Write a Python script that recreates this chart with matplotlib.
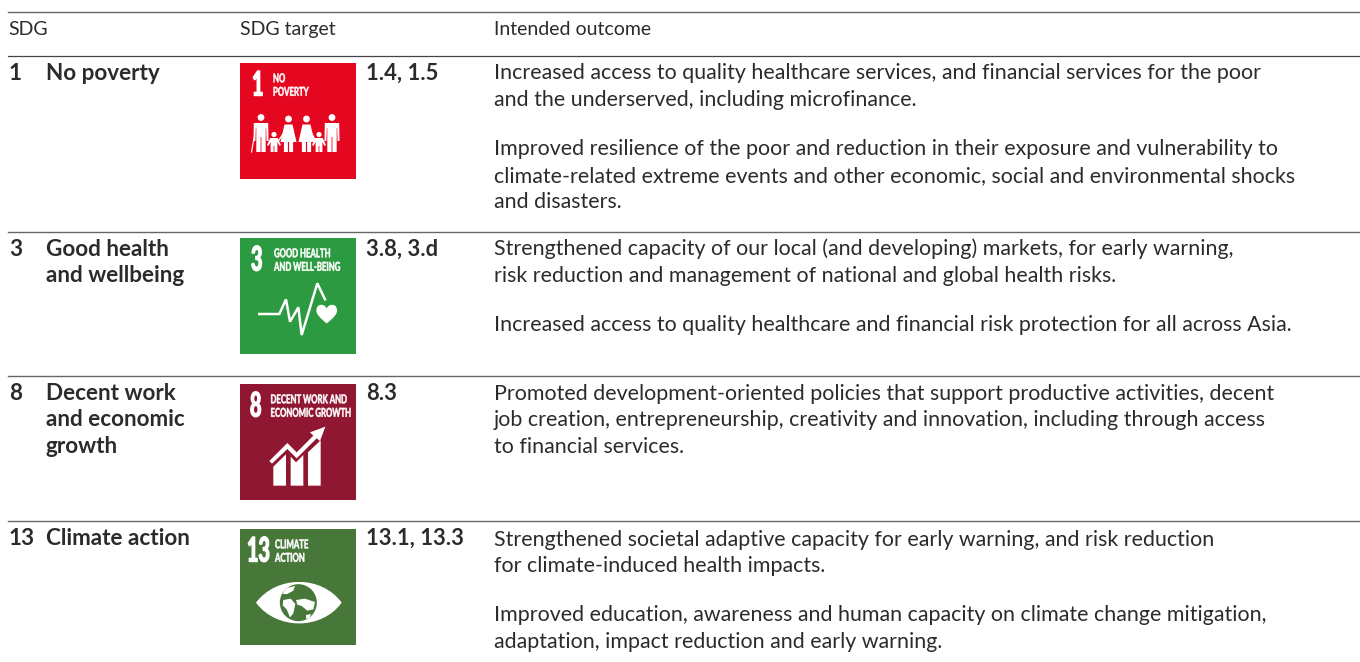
import matplotlib
matplotlib.use('Agg')
import matplotlib.pyplot as plt
from matplotlib.patches import Rectangle, Circle, Polygon, PathPatch
from matplotlib.path import Path
from matplotlib.patheffects import AbstractPathEffect
from matplotlib.transforms import Affine2D

headers = ['SDG', 'SDG target', 'Intended outcome']
sdg_numbers = ['1', '3', '8', '13']
sdg_names = [['No poverty'], ['Good health', 'and wellbeing'], ['Decent work', 'and economic', 'growth'], ['Climate action']]
targets = ['1.4, 1.5', '3.8, 3.d', '8.3', '13.1, 13.3']
outcomes = [
    [(79, 'Increased access to quality healthcare services, and financial services for the poor'),
     (106, 'and the underserved, including microfinance.'),
     (155, 'Improved resilience of the poor and reduction in their exposure and vulnerability to'),
     (182, 'climate-related extreme events and other economic, social and environmental shocks'),
     (208, 'and disasters.')],
    [(255, 'Strengthened capacity of our local (and developing) markets, for early warning,'),
     (282, 'risk reduction and management of national and global health risks.'),
     (331, 'Increased access to quality healthcare and financial risk protection for all across Asia.')],
    [(400, 'Promoted development-oriented policies that support productive activities, decent'),
     (426, 'job creation, entrepreneurship, creativity and innovation, including through access'),
     (453, 'to financial services.')],
    [(546, 'Strengthened societal adaptive capacity for early warning, and risk reduction'),
     (572, 'for climate-induced health impacts.'),
     (621, 'Improved education, awareness and human capacity on climate change mitigation,'),
     (648, 'adaptation, impact reduction and early warning.')],
]
row_tops = [56, 232, 376, 521]
icon_tops = [63, 238, 384, 529]
icon_colors = ['#E5071F', '#2B9A40', '#8F1732', '#48773A']
icon_titles = [['NO', 'POVERTY'], ['GOOD HEALTH', 'AND WELL-BEING'], ['DECENT WORK AND', 'ECONOMIC GROWTH'], ['CLIMATE', 'ACTION']]
icon_title_x = [33, 34, 30.5, 35]
icon_num_x = [12, 11, 10, 7]

TXT = '#2b2b2b'
plt.rcParams['font.family'] = ['Lato', 'DejaVu Sans']

fig = plt.figure(figsize=(13.6, 6.62), dpi=100)
ax = fig.add_axes([0, 0, 1, 1])
ax.set_xlim(0, 1360)
ax.set_ylim(662, 0)
ax.axis('off')


class Tall(AbstractPathEffect):
    # the icon lettering is a condensed face, none is installed:
    # small text stretched upward from its baseline, with a thin outline for weight
    def __init__(self, sy, lw):
        super().__init__()
        self.sy = sy
        self.lw = lw

    def draw_path(self, renderer, gc, tpath, affine, rgbFace=None):
        gc0 = renderer.new_gc()
        gc0.copy_properties(gc)
        gc0.set_linewidth(self.lw)
        gc0.set_foreground('white')
        renderer.draw_path(gc0, tpath, Affine2D().scale(1, self.sy) + affine, rgbFace)
        gc0.restore()


def tall_text(x, y, s, size, sy, lw):
    t = ax.text(x, y, s, fontsize=size, fontweight='bold', color='white', va='baseline')
    t.set_path_effects([Tall(sy, lw)])
    return t


# table rules
ax.plot([8, 1360], [12, 12], color='#666666', lw=1.0)
ax.plot([8, 1360], [56, 56], color='#444444', lw=0.9)
for y in row_tops[1:]:
    ax.plot([8, 1360], [y, y], color='#666666', lw=1.0)

# header
for x, h in zip([8, 240, 494], headers):
    ax.text(x, 35, h, fontsize=14, color=TXT, va='baseline')

# table rows
for i in range(4):
    top = row_tops[i]
    base = top + 24
    ax.text(9, base, sdg_numbers[i], fontsize=16.2, fontweight='bold', color=TXT, va='baseline')
    for j, line in enumerate(sdg_names[i]):
        ax.text(46, base + j * 26.5, line, fontsize=16.2, fontweight='bold', color=TXT, va='baseline')
    ax.text(366, base, targets[i], fontsize=15.8, fontweight='bold', color=TXT, va='baseline')
    for y, line in outcomes[i]:
        ax.text(494, y, line, fontsize=15.4, color=TXT, va='baseline')


def white_poly(pts, ox, oy, **kw):
    ax.add_patch(Polygon([(ox + a, oy + b) for a, b in pts], closed=True, fc='white', ec='none', **kw))


def man(cx, ox, oy):
    ax.add_patch(Circle((ox + cx, oy + 54.5), 3.4, fc='white', ec='none'))
    white_poly([(cx-7.2, 60), (cx+7.2, 60), (cx+7.5, 78), (cx+5.6, 78), (cx+5.2, 65), (cx+4.7, 65), (cx+4.7, 89),
                (cx+0.4, 89), (cx+0.4, 74), (cx-0.4, 74), (cx-0.4, 89), (cx-4.7, 89), (cx-4.7, 65), (cx-5.2, 65),
                (cx-5.6, 78), (cx-7.5, 78)], ox, oy)


def woman(cx, ox, oy):
    ax.add_patch(Circle((ox + cx, oy + 56), 3.4, fc='white', ec='none'))
    white_poly([(cx-4, 61.5), (cx+4, 61.5), (cx+8, 79), (cx+4.6, 79), (cx+4.6, 89), (cx+0.6, 89), (cx+0.6, 79),
                (cx-0.6, 79), (cx-0.6, 89), (cx-4.6, 89), (cx-4.6, 79), (cx-8, 79)], ox, oy)


def child(cx, ox, oy):
    ax.add_patch(Circle((ox + cx, oy + 71.5), 2.6, fc='white', ec='none'))
    white_poly([(cx-3.7, 75), (cx+3.7, 75), (cx+7, 82), (cx+5.5, 83), (cx+3.4, 79), (cx+3.4, 89), (cx+0.4, 89),
                (cx+0.4, 83), (cx-0.4, 83), (cx-0.4, 89), (cx-3.4, 89), (cx-3.4, 79), (cx-5.5, 83), (cx-7, 82)], ox, oy)


def draw_poverty(ox, oy):
    man(21, ox, oy)
    man(92, ox, oy)
    woman(48.5, ox, oy)
    woman(66.5, ox, oy)
    child(34, ox, oy)
    child(79, ox, oy)
    # walking stick and linked hands
    ax.plot([ox + 14, ox + 11.5], [oy + 75, oy + 89], color='white', lw=0.8)
    ax.plot([ox + 39, ox + 43], [oy + 77, oy + 71], color='white', lw=1.0)
    ax.plot([ox + 72, ox + 75], [oy + 71, oy + 77], color='white', lw=1.0)


def draw_health(ox, oy):
    xs = [88, 148, 168, 180, 205, 215, 262, 285]
    ys = [252, 252, 208, 275, 232, 315, 160, 208]
    ax.plot([ox + a / 3 - 10 for a in xs], [oy + b / 3 - 8 for b in ys], color='white', lw=1.8, solid_joinstyle='miter')
    # heart
    cx, cy = ox + 86.7, oy + 75.5
    verts = [(cx, cy + 10), (cx - 6, cy + 5), (cx - 12, cy), (cx - 10, cy - 5), (cx - 9, cy - 10), (cx - 2, cy - 10),
             (cx, cy - 5), (cx + 2, cy - 10), (cx + 9, cy - 10), (cx + 10, cy - 5), (cx + 12, cy), (cx + 6, cy + 5), (cx, cy + 10)]
    codes = [Path.MOVETO] + [Path.CURVE4] * 12
    ax.add_patch(PathPatch(Path(verts, codes), fc='white', ec='none'))


def draw_work(ox, oy):
    def loc(a, b):
        return (a / 3 - 10, b / 3 - 9)
    white_poly([loc(130, 275), loc(168, 238), loc(168, 332), loc(130, 332)], ox, oy)
    white_poly([loc(182, 245), loc(198, 262), loc(220, 240), loc(220, 332), loc(182, 332)], ox, oy)
    white_poly([loc(234, 232), loc(272, 196), loc(272, 332), loc(234, 332)], ox, oy)
    white_poly([loc(118, 258), loc(172, 204), loc(200, 232), loc(250, 182), loc(240, 172), loc(286, 155), loc(270, 198),
                loc(260, 190), loc(200, 250), loc(172, 222), loc(126, 266)], ox, oy)


def draw_climate(ox, oy):
    def loc(a, b):
        return (ox + a / 3 - 10, oy + b / 3 - 9)
    eye = [loc(78, 248), loc(140, 165), loc(275, 165), loc(335, 248), loc(275, 331), loc(140, 331), loc(78, 248)]
    ax.add_patch(PathPatch(Path(eye, [Path.MOVETO] + [Path.CURVE4] * 6), fc='white', ec='none'))
    c = loc(205, 248)
    globe = Circle(c, 18.5, fc=icon_colors[3], ec='none')
    ax.add_patch(globe)
    # continents
    lands = [[(165, 205), (195, 198), (190, 212), (172, 222), (158, 222)],
             [(160, 240), (182, 236), (196, 252), (190, 280), (180, 292), (170, 268), (158, 256)],
             [(198, 240), (225, 236), (255, 246), (250, 268), (232, 272), (215, 258), (202, 254)],
             [(228, 285), (243, 282), (238, 295), (228, 296)]]
    for land in lands:
        p = Polygon([loc(a, b) for a, b in land], closed=True, fc='white', ec='none')
        ax.add_patch(p)
        p.set_clip_path(globe)


draw_icons = [draw_poverty, draw_health, draw_work, draw_climate]
for i in range(4):
    ox, oy = 240, icon_tops[i]
    ax.add_patch(Rectangle((ox, oy), 116, 116, fc=icon_colors[i], ec='none'))
    tall_text(ox + icon_num_x[i], oy + 32.5, sdg_numbers[i], 14.2, 1.72, 1.0)
    for j, t in enumerate(icon_titles[i]):
        tall_text(ox + icon_title_x[i], oy + 19.3 + j * 13.5, t, 5.6, 1.58, 0.35)
    draw_icons[i](ox, oy)

fig.savefig('out.png', dpi=100, facecolor='white')
